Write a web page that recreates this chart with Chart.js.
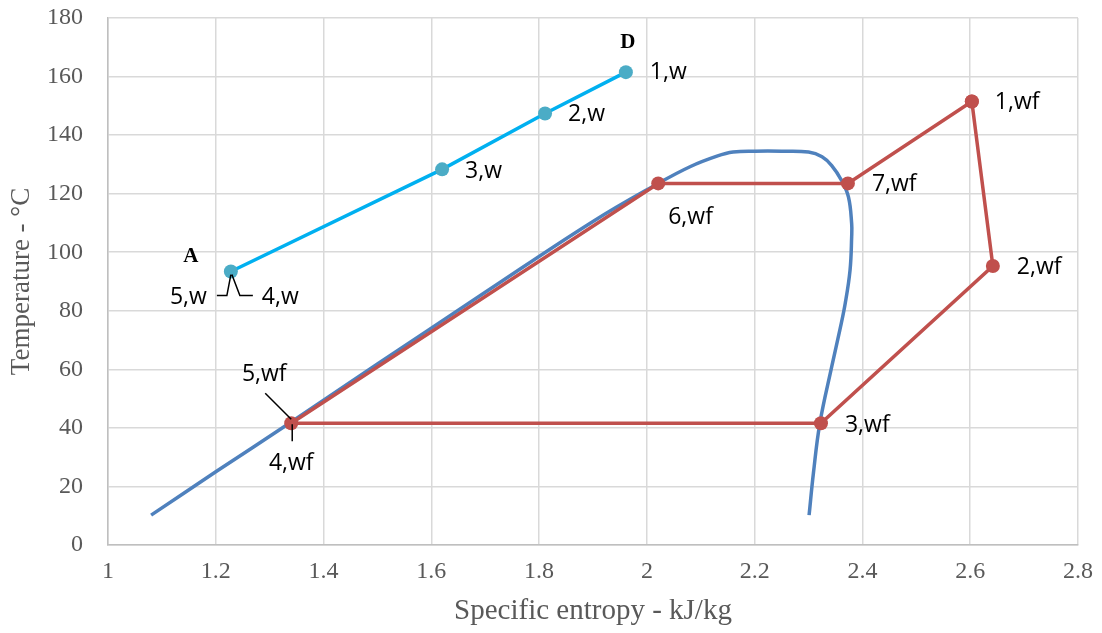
<!DOCTYPE html>
<html>
<head>
<meta charset="utf-8">
<script src="https://cdn.jsdelivr.net/npm/chart.js@4.4.1/dist/chart.umd.min.js"></script>
<style>
  html, body { margin: 0; padding: 0; background: #fff; }
  #wrap { width: 1102px; height: 633px; }
</style>
</head>
<body>
<div id="wrap"><canvas id="tsChart"></canvas></div>
<script>
// ─── Data ────────────────────────────────────────────────
// Saturation dome of the working fluid
const domeS = [1.08, 1.2, 1.34, 1.5, 1.7, 1.9, 2.021, 2.08, 2.13, 2.16, 2.2, 2.25, 2.3, 2.325, 2.343, 2.361, 2.374, 2.38, 2.38, 2.377, 2.368, 2.358, 2.343, 2.321, 2.309, 2.301];
const domeT = [10.2, 25, 42, 61.8, 86.3, 110.5, 123.5, 129.2, 132.8, 134.2, 134.5, 134.5, 134.2, 132.6, 129.6, 124.6, 118.9, 109.8, 105.3, 93.9, 82.5, 73.4, 60.9, 41.6, 24.5, 10.2];

// Heat-source water (4,w -> 1,w)
const waterLabels = ['4,w', '3,w', '2,w', '1,w'];
const waterS = [1.228, 1.62, 1.811, 1.961];
const waterT = [93.4, 128.3, 147.4, 161.5];

// Working-fluid cycle (closed loop back to 1,wf)
const cycleLabels = ['1,wf', '2,wf', '3,wf', '4,wf', '6,wf', '7,wf', ''];
const cycleS = [2.603, 2.642, 2.323, 1.34, 2.021, 2.373, 2.603];
const cycleT = [151.5, 95.3, 41.6, 41.6, 123.5, 123.5, 151.5];

const xTicks = [1, 1.2, 1.4, 1.6, 1.8, 2, 2.2, 2.4, 2.6, 2.8];
const yTicks = [0, 20, 40, 60, 80, 100, 120, 140, 160, 180];

const toXY = (xs, ys) => xs.map((x, i) => ({ x: x, y: ys[i] }));

// Couleurs (style Excel)
const COLORS = {
  dome: '#4f81bd',
  water: '#00b0f0',
  waterMarker: '#4bacc6',
  cycle: '#c0504d',
  grid: '#d9d9d9',
  axisText: '#595959',
};

const SERIF = "'Liberation Serif', serif";
const SANS = "'Open Sans', 'Noto Sans', sans-serif";

// ─── Point labels + leader lines (pixel offsets only) ────
const labelStyle = {
  '1,w':  { dx: 24, dy: 0, align: 'left' },
  '2,w':  { dx: 23, dy: 1, align: 'left' },
  '3,w':  { dx: 23, dy: 2, align: 'left' },
  '1,wf': { dx: 23, dy: 1, align: 'left' },
  '2,wf': { dx: 24, dy: 1, align: 'left' },
  '3,wf': { dx: 24, dy: 2, align: 'left' },
  '7,wf': { dx: 24, dy: 1, align: 'left' },
  '6,wf': { dx: 10, dy: 34, align: 'left' },
};

const pointLabels = {
  id: 'pointLabels',
  afterDatasetsDraw(chart) {
    const { ctx, scales: { x, y } } = chart;
    const px = (s) => x.getPixelForValue(s);
    const py = (t) => y.getPixelForValue(t);
    ctx.save();
    ctx.font = '23px ' + SANS;
    ctx.fillStyle = '#000';
    ctx.textBaseline = 'middle';

    const put = (text, X, Y, align) => { ctx.textAlign = align; ctx.fillText(text, X, Y); };

    waterLabels.forEach((lab, i) => {
      const st = labelStyle[lab];
      if (st) put(lab, px(waterS[i]) + st.dx, py(waterT[i]) + st.dy, st.align);
    });
    cycleLabels.forEach((lab, i) => {
      const st = labelStyle[lab];
      if (st) put(lab, px(cycleS[i]) + st.dx, py(cycleT[i]) + st.dy, st.align);
    });

    // 4,w / 5,w share the same point -> two leaders
    const ax = px(waterS[0]), ay = py(waterT[0]);
    ctx.strokeStyle = '#000';
    ctx.lineWidth = 1.5;
    ctx.beginPath();
    ctx.moveTo(ax, ay + 3); ctx.lineTo(ax - 4, ay + 24); ctx.lineTo(ax - 14, ay + 24);
    ctx.moveTo(ax + 1, ay + 3); ctx.lineTo(ax + 9, ay + 24); ctx.lineTo(ax + 22, ay + 24);
    ctx.stroke();
    put('5,w', ax - 24, ay + 26, 'right');
    put('4,w', ax + 31, ay + 26, 'left');

    // 4,wf / 5,wf share the same point
    const bx = px(cycleS[3]), by = py(cycleT[3]);
    ctx.beginPath();
    ctx.moveTo(bx - 26, by - 30); ctx.lineTo(bx, by - 4);
    ctx.moveTo(bx + 1, by + 1); ctx.lineTo(bx + 1, by + 18);
    ctx.stroke();
    put('5,wf', bx - 27, by - 49, 'center');
    put('4,wf', bx, by + 40, 'center');

    // State letters A and D on the water line
    ctx.font = 'bold 21px ' + SERIF;
    put('A', ax - 40, ay - 15, 'center');
    put('D', px(waterS[3]) + 2, py(waterT[3]) - 30, 'center');
    ctx.restore();
  },
};

// ─── Chart ────────────────────────────────────────────────
new Chart(document.getElementById('tsChart'), {
  type: 'scatter',
  data: {
    datasets: [
      {
        label: 'Dome',
        data: toXY(domeS, domeT),
        showLine: true,
        borderColor: COLORS.dome,
        borderWidth: 3.5,
        pointRadius: 0,
        tension: 0.4,
        order: 3,
      },
      {
        label: 'Water',
        data: toXY(waterS, waterT),
        showLine: true,
        borderColor: COLORS.water,
        borderWidth: 3.5,
        pointRadius: 7,
        pointBackgroundColor: COLORS.waterMarker,
        pointBorderColor: COLORS.waterMarker,
        pointBorderWidth: 0,
        order: 1,
      },
      {
        label: 'Working fluid',
        data: toXY(cycleS, cycleT),
        showLine: true,
        borderColor: COLORS.cycle,
        borderWidth: 3.5,
        pointRadius: 7,
        pointBackgroundColor: COLORS.cycle,
        pointBorderColor: COLORS.cycle,
        pointBorderWidth: 0,
        order: 2,
      },
    ],
  },
  options: {
    responsive: true,
    maintainAspectRatio: false,
    animation: false,
    layout: { padding: { top: 18, right: 24, left: 0, bottom: 0 }, autoPadding: false },
    plugins: {
      legend: { display: false },
      tooltip: { enabled: false },
    },
    scales: {
      x: {
        type: 'linear',
        min: 1,
        max: 2.8,
        // hauteur fixe de l'axe, sans marge auto pour le dernier libelle
        afterFit: (s) => { s.height = 88; s.paddingRight = 0; },
        afterBuildTicks: (s) => { s.ticks = xTicks.map(v => ({ value: v })); },
        grid: { color: COLORS.grid, lineWidth: 1.5, drawTicks: false },
        border: { color: '#bfbfbf', width: 1.5 },
        ticks: {
          color: COLORS.axisText,
          font: { family: SERIF, size: 24 },
          padding: 12,
          callback: (v) => String(Number(v.toFixed(1))),
        },
        title: {
          display: true,
          text: 'Specific entropy - kJ/kg',
          color: COLORS.axisText,
          font: { family: SERIF, size: 29 },
          padding: { top: 0, bottom: 4 },
        },
      },
      y: {
        type: 'linear',
        min: 0,
        max: 180,
        afterFit: (s) => { s.width = 108; s.paddingTop = 0; s.paddingBottom = 0; },
        afterBuildTicks: (s) => { s.ticks = yTicks.map(v => ({ value: v })); },
        grid: { color: COLORS.grid, lineWidth: 1.5, drawTicks: false },
        border: { color: '#bfbfbf', width: 1.5 },
        ticks: {
          color: COLORS.axisText,
          font: { family: SERIF, size: 24 },
          padding: 25,
        },
        title: {
          display: true,
          text: 'Temperature - °C',
          color: COLORS.axisText,
          font: { family: SERIF, size: 27 },
          padding: { top: 6, bottom: 0 },
        },
      },
    },
  },
  plugins: [pointLabels],
});
</script>
</body>
</html>
